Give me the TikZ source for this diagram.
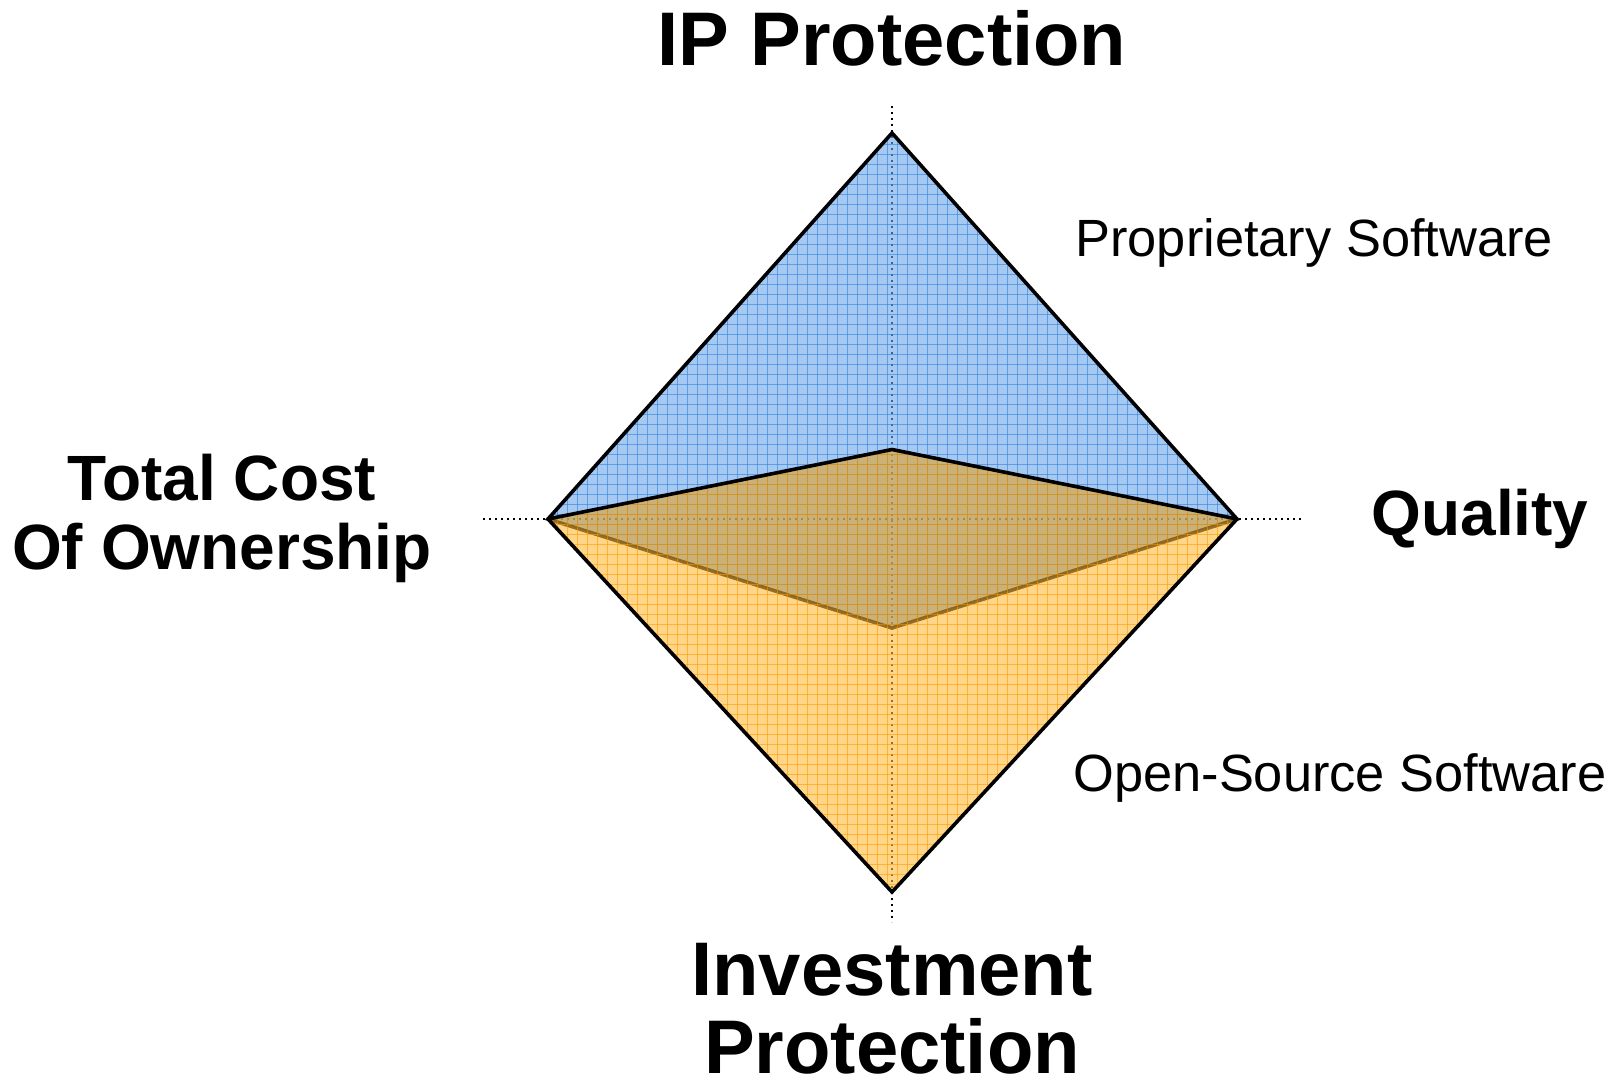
\documentclass[tikz,border=0pt]{standalone}
\usepackage{fontspec}
\setmainfont{Liberation Sans}
\definecolor{blueFill}{RGB}{107,165,232}
\definecolor{blueGrid}{RGB}{48,129,226}
\definecolor{yelFill}{RGB}{255,187,55}
\definecolor{yelGrid}{RGB}{255,154,0}
\tikzset{
  axisline/.style={line width=1.2pt, dash pattern=on 1.2pt off 1.8pt, black},
  outline/.style={line width=1.8pt, black, line join=miter},
  bluegridline/.style={line width=0.5pt, blueGrid, draw opacity=0.6},
  yelgridline/.style={line width=0.5pt, yelGrid, draw opacity=0.6},
  overlaptint/.style={fill=black, fill opacity=0.08},
  bigtitle/.style={font=\bfseries\fontsize{38}{40}\selectfont, anchor=base, inner sep=0pt},
  sidetitle/.style={font=\bfseries\fontsize{32}{34}\selectfont, anchor=base, inner sep=0pt},
  seriesname/.style={font=\fontsize{26.2}{28}\selectfont, anchor=base west, inner sep=0pt},
}
\begin{document}
\begin{tikzpicture}[x=0.5pt,y=-0.5pt]
\useasboundingbox (0,0) rectangle (1614,1083);
% vertices
\coordinate (T) at (892,133);
\coordinate (L) at (548,519);
\coordinate (R) at (1237,519);
\coordinate (Bot) at (892,892);
\coordinate (YI) at (892,449.5);
\coordinate (BI) at (892,628);
% axes ends
\coordinate (axT) at (892,106);
\coordinate (axB) at (892,922);
\coordinate (axL) at (483,519);
\coordinate (axR) at (1302,519);
\draw[axisline] (axT) -- (axB);
\draw[axisline] (axL) -- (axR);
% proprietary (blue)
\fill[blueFill, fill opacity=0.6] (L) -- (T) -- (R) -- (BI) -- cycle;
\begin{scope}
  \clip (L) -- (T) -- (R) -- (BI) -- cycle;
  \foreach \g in {547,557,...,1247} \draw[bluegridline] (\g,120) -- (\g,900);
  \foreach \g in {124,134,...,900} \draw[bluegridline] (540,\g) -- (1245,\g);
\end{scope}
\draw[outline] (L) -- (T) -- (R) -- (BI) -- cycle;
% open source (yellow)
\fill[yelFill, fill opacity=0.6] (L) -- (YI) -- (R) -- (Bot) -- cycle;
\begin{scope}
  \clip (L) -- (YI) -- (R) -- (Bot) -- cycle;
  \foreach \g in {547,557,...,1247} \draw[yelgridline] (\g,120) -- (\g,900);
  \foreach \g in {124,134,...,900} \draw[yelgridline] (540,\g) -- (1245,\g);
\end{scope}
\fill[overlaptint] (L) -- (YI) -- (R) -- (BI) -- cycle;
\draw[outline] (L) -- (YI) -- (R);
\draw[outline] (R) -- (Bot) -- (L);
% labels
\node[bigtitle] (ip) at (892,65) {IP Protection};
\node[bigtitle] (inv1) at (892,995) {Investment};
\node[bigtitle] (inv2) at (892,1073) {Protection};
\node[sidetitle] (tco1) at (222,500) {Total Cost};
\node[sidetitle] (tco2) at (222,569) {Of Ownership};
\node[sidetitle] (qual) at (1480,535) {Quality};
\node[seriesname] (prop) at (1075,256) {Proprietary Software};
\node[seriesname] (oss) at (1073,791) {Open-Source Software};
\end{tikzpicture}
\end{document}
